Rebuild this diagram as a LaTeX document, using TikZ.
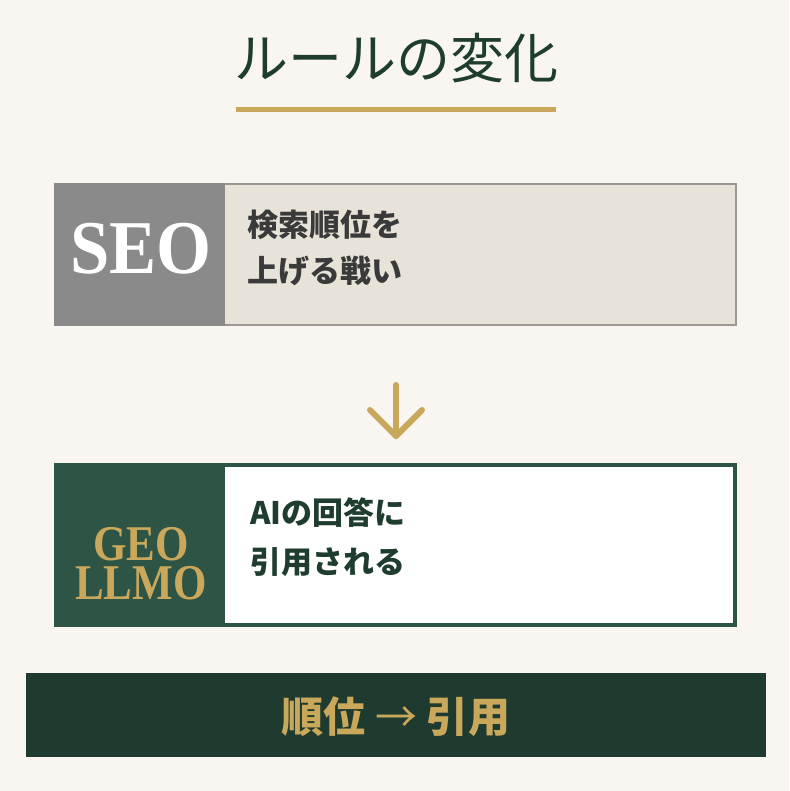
\documentclass[tikz,border=0pt]{standalone}
\usepackage{fontspec}
\setmainfont{Liberation Serif}
\newfontfamily\jp{Noto Sans CJK JP}
\definecolor{bg}{HTML}{F9F6F1}
\definecolor{dgreen}{HTML}{1E3D2F}
\definecolor{mgreen}{HTML}{2D5444}
\definecolor{gold}{HTML}{C9A85C}
\definecolor{gborder}{HTML}{9A9794}
\definecolor{gfill}{HTML}{8A8A8A}
\definecolor{beige}{HTML}{E8E3D9}
\definecolor{txtgray}{HTML}{3A3A3A}
\definecolor{barg}{HTML}{1F3A2E}
\begin{document}
\begin{tikzpicture}[x=1pt,y=-1pt,
  bodytext/.style={anchor=west,align=left,font=\jp\bfseries\fontsize{31}{46}\selectfont,inner sep=0pt},
  labelserif/.style={inner sep=0pt,align=center}]
\useasboundingbox (0,0) rectangle (789,791);
\fill[bg] (0,0) rectangle (789,791);
% title
\node[font=\jp\fontsize{54}{58}\selectfont,text=dgreen,inner sep=0pt] (title) at (396,58) {ルールの変化};
\draw[gold,line width=5pt] (236,110) -- (556,110);
% SEO box
\draw[fill=beige,draw=gborder,line width=2.5pt] (55,184) rectangle (736,325);
\fill[gfill] (54,183) rectangle (225,326);
\node[labelserif,text=white,font=\bfseries\fontsize{76}{80}\selectfont,xscale=0.93] (seo) at (141,249) {SEO};
\node[bodytext,text=txtgray] (seo1) at (247,248) {検索順位を\\上げる戦い};
% arrow
\coordinate (atop) at (396,385);
\coordinate (abot) at (396,436);
\draw[gold,line width=6pt,line cap=round,line join=round] (atop) -- (abot);
\draw[gold,line width=6pt,line cap=round,line join=round] (370,410) -- (abot) -- (422,410);
% GEO box
\draw[fill=white,draw=mgreen,line width=4.5pt] (56,465) rectangle (735,625);
\fill[mgreen] (54,463) rectangle (225,627);
\node[labelserif,text=gold,font=\bfseries\fontsize{50}{39}\selectfont,xscale=0.86] (geo) at (141,564) {GEO\\LLMO};
\node[bodytext,text=dgreen,font=\jp\bfseries\fontsize{31}{49}\selectfont] (geo1) at (250,537) {AIの回答に\\引用される};
% bottom bar
\fill[barg] (26,673) rectangle (766,757);
\node[font=\jp\bfseries\fontsize{42}{46}\selectfont,text=gold,inner sep=0pt] (bar) at (396,717) {順位 {\mdseries →} 引用};
\end{tikzpicture}
\end{document}
